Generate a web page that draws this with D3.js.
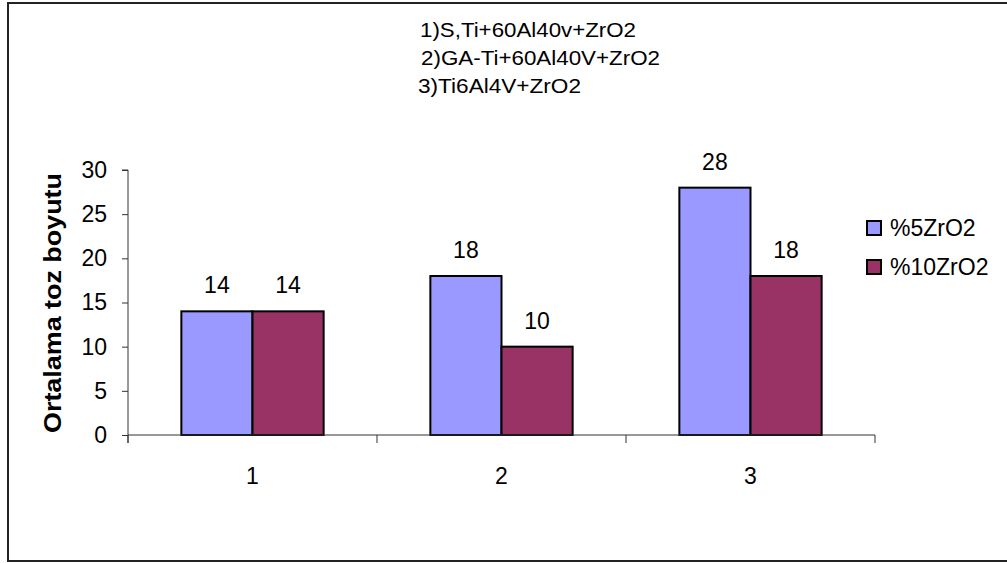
<!DOCTYPE html>
<html>
<head>
<meta charset="utf-8">
<script src="https://cdn.jsdelivr.net/npm/d3@7/dist/d3.min.js"></script>
<style>
  html, body { margin: 0; padding: 0; background: #fff; }
  svg { display: block; font-family: "Liberation Sans", Arial, sans-serif; }
</style>
</head>
<body>
<svg id="chart" width="1007" height="563"></svg>
<script>
// Chart data
const categories = ["1", "2", "3"];
const seriesNames = ["%5ZrO2", "%10ZrO2"];
const series5 = [14, 18, 28];
const series10 = [14, 10, 18];
const yTicks = [0, 5, 10, 15, 20, 25, 30];
const noteLines = ["1)S,Ti+60Al40v+ZrO2", "2)GA-Ti+60Al40V+ZrO2", "3)Ti6Al4V+ZrO2"];
const yTitle = "Ortalama toz boyutu";

const colors = ["#9999FF", "#993366"];
const seriesValues = [series5, series10];

const svg = d3.select("#chart");

// Outer frame
svg.append("rect")
  .attr("x", 8).attr("y", 3)
  .attr("width", 1010).attr("height", 558)
  .attr("fill", "#fff")
  .attr("stroke", "#222").attr("stroke-width", 2);

const plot = { left: 128, right: 875, top: 170, bottom: 435 };

const x0 = d3.scaleBand()
  .domain(categories)
  .range([plot.left, plot.right])
  .padding(0);

const band = x0.bandwidth();
const barW = band / 3.5;              // gap width 150% of a bar
const x1 = d3.scaleBand()
  .domain(seriesNames)
  .range([0, barW * 2])
  .padding(0);
const groupOffset = (band - barW * 2) / 2;

const y = d3.scaleLinear().domain([0, 30]).range([plot.bottom, plot.top]);

// Bars
const rows = categories.map((c, i) => ({
  cat: c,
  vals: seriesNames.map((s, k) => ({ s, k, v: seriesValues[k][i] }))
}));

const groups = svg.append("g").selectAll("g")
  .data(rows).join("g")
  .attr("transform", d => `translate(${x0(d.cat) + groupOffset},0)`);

groups.selectAll("rect")
  .data(d => d.vals).join("rect")
  .attr("x", d => x1(d.s))
  .attr("y", d => y(d.v))
  .attr("width", x1.bandwidth())
  .attr("height", d => y(0) - y(d.v))
  .attr("fill", d => colors[d.k])
  .attr("stroke", "#000")
  .attr("stroke-width", 2);

// Value labels
groups.selectAll("text")
  .data(d => d.vals).join("text")
  .attr("x", d => x1(d.s) + x1.bandwidth() / 2)
  .attr("y", d => y(d.v) - 18)
  .attr("text-anchor", "middle")
  .attr("font-size", 23)
  .attr("fill", "#000")
  .text(d => d.v);

// Y axis
const yAxis = d3.axisLeft(y).tickValues(yTicks).tickSize(6).tickPadding(15);
const gy = svg.append("g").attr("transform", `translate(${plot.left},0)`).call(yAxis);
gy.select(".domain").attr("stroke", "#333").attr("d", `M-6,${plot.top}H0V${plot.bottom + 8}`);
gy.selectAll(".tick line").attr("stroke", "#333");
gy.selectAll(".tick text").attr("font-size", 23).attr("fill", "#000")
  .attr("font-family", "Liberation Sans, Arial, sans-serif");

// X axis with ticks on category boundaries
const gx = svg.append("g").attr("transform", `translate(0,${plot.bottom})`);
gx.append("line")
  .attr("x1", plot.left).attr("x2", plot.right)
  .attr("stroke", "#333");
const boundaries = categories.map(c => x0(c)).concat([x0(categories[categories.length - 1]) + band]);
gx.selectAll(".bt").data(boundaries).join("line")
  .attr("class", "bt")
  .attr("x1", d => d).attr("x2", d => d)
  .attr("y1", 0).attr("y2", 8)
  .attr("stroke", "#333");
gx.selectAll(".cl").data(categories).join("text")
  .attr("class", "cl")
  .attr("x", d => x0(d) + band / 2)
  .attr("y", 49)
  .attr("text-anchor", "middle")
  .attr("font-size", 23)
  .attr("fill", "#000")
  .text(d => d);

// Y axis title
svg.append("text")
  .attr("transform", `translate(61,303) rotate(-90)`)
  .attr("text-anchor", "middle")
  .attr("font-size", 23)
  .attr("font-weight", "bold")
  .attr("fill", "#000")
  .attr("textLength", 260)
  .attr("lengthAdjust", "spacingAndGlyphs")
  .text(yTitle);

// Notes at the top
const noteX = [420, 421, 418];
const noteW = [216, 239, 163];
svg.append("g").selectAll("text")
  .data(noteLines).join("text")
  .attr("x", (d, i) => noteX[i])
  .attr("y", (d, i) => 37 + i * 28)
  .attr("font-size", 20)
  .attr("fill", "#000")
  .attr("textLength", (d, i) => noteW[i])
  .attr("lengthAdjust", "spacingAndGlyphs")
  .text(d => d);

// Legend
const legend = svg.append("g").selectAll("g")
  .data(seriesNames).join("g")
  .attr("transform", (d, i) => `translate(867,${221 + i * 39})`);
legend.append("rect")
  .attr("width", 14).attr("height", 14)
  .attr("fill", (d, i) => colors[i])
  .attr("stroke", "#000").attr("stroke-width", 2);
legend.append("text")
  .attr("x", 23).attr("y", 15)
  .attr("font-size", 23)
  .attr("fill", "#000")
  .text(d => d);
</script>
</body>
</html>
